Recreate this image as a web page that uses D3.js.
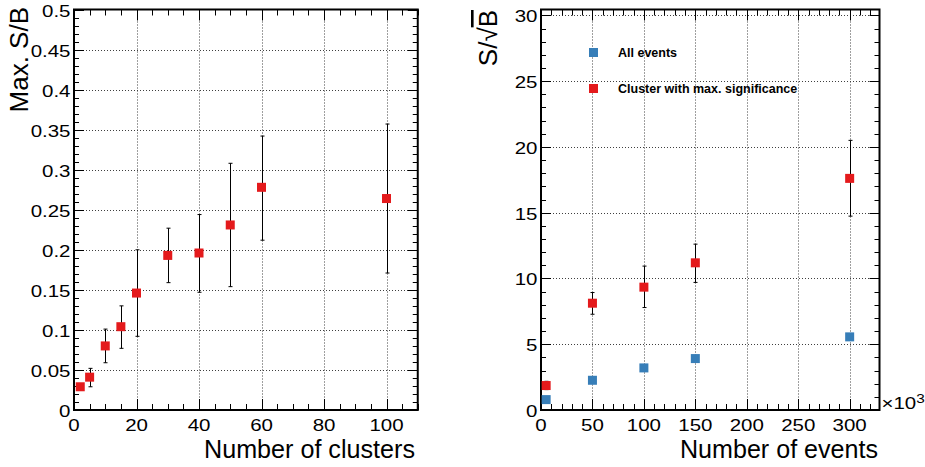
<!DOCTYPE html>
<html><head><meta charset="utf-8">
<script src="https://cdn.jsdelivr.net/npm/d3@7"></script>
<style>body{margin:0;background:#fff}svg{display:block}text{font-family:"Liberation Sans",Arial,sans-serif;fill:#000}</style>
</head><body>
<svg id="c" width="925" height="467"></svg>
<script>
// ---- Left panel data ----
const clusters      = [2, 5, 10, 15, 20, 30, 40, 50, 60, 100];
const maxSB         = [0.029, 0.041, 0.080, 0.104, 0.146, 0.193, 0.196, 0.231, 0.278, 0.264];
const maxSBLow      = [0.027, 0.029, 0.059, 0.077, 0.092, 0.159, 0.147, 0.154, 0.212, 0.171];
const maxSBHigh     = [0.031, 0.052, 0.101, 0.130, 0.200, 0.227, 0.244, 0.308, 0.342, 0.357];
const leftXTicks    = [0, 20, 40, 60, 80, 100];
const leftYTicks    = [0, 0.05, 0.1, 0.15, 0.2, 0.25, 0.3, 0.35, 0.4, 0.45, 0.5];
const leftYLabels   = ["0","0.05","0.1","0.15","0.2","0.25","0.3","0.35","0.4","0.45","0.5"];

// ---- Right panel data ----
const events        = [5, 50, 100, 150, 300];          // x10^3
const allEvents     = [0.79, 2.26, 3.20, 3.91, 5.56];
const clusterSig    = [1.86, 8.12, 9.34, 11.19, 17.61];
const clusterSigLow = [1.55, 7.28, 7.79, 9.70, 14.74];
const clusterSigHigh= [2.18, 8.93, 10.94, 12.61, 20.50];
const rightXTicks   = [0, 50, 100, 150, 200, 250, 300];
const rightYTicks   = [0, 5, 10, 15, 20, 25, 30];
const legendLabels  = ["All events", "Cluster with max. significance"];

const RED = "#e41a1c", BLUE = "#377eb8";
const svg = d3.select("#c");

function tickText(g, x, y, str, anchor, sx){
  g.append("text").attr("transform", `translate(${x},${y}) scale(${sx},1)`)
   .attr("text-anchor", anchor).attr("font-size", 16).text(str);
}

function panel(opt){
  const g = svg.append("g");
  const x = d3.scaleLinear().domain(opt.xd).range([opt.x0, opt.x1]);
  const y = d3.scaleLinear().domain(opt.yd).range([opt.y1, opt.y0]);
  // grid
  const grid = g.append("g").attr("stroke", "#000").attr("stroke-width", 1)
     .attr("stroke-dasharray", "1,2").attr("opacity", 0.75);
  opt.xMajor.filter(v => x(v) > opt.x0 + 2 && x(v) < opt.x1 - 2).forEach(v => {
    grid.append("line").attr("x1", Math.round(x(v))+0.5).attr("x2", Math.round(x(v))+0.5)
      .attr("y1", opt.y0).attr("y2", opt.y1);
  });
  opt.yMajor.filter(v => y(v) > opt.y0 + 2 && y(v) < opt.y1 - 2).forEach(v => {
    grid.append("line").attr("y1", Math.round(y(v))+0.5).attr("y2", Math.round(y(v))+0.5)
      .attr("x1", opt.x0).attr("x2", opt.x1);
  });
  // ticks
  const tk = g.append("g").attr("stroke", "#000").attr("stroke-width", 1);
  const xMinor = d3.range(opt.xd[0], opt.xd[1] + 1e-9, opt.xMinorStep);
  xMinor.forEach(v => {
    const major = opt.xMajor.some(m => Math.abs(m - v) < 1e-9);
    const L = major ? 11 : 6, px = Math.round(x(v)) + 0.5;
    tk.append("line").attr("x1", px).attr("x2", px).attr("y1", opt.y1).attr("y2", opt.y1 - L);
    tk.append("line").attr("x1", px).attr("x2", px).attr("y1", opt.y0).attr("y2", opt.y0 + L);
  });
  const yMinor = d3.range(opt.yd[0], opt.yd[1] + 1e-9, opt.yMinorStep);
  yMinor.forEach(v => {
    const major = opt.yMajor.some(m => Math.abs(m - v) < 1e-9);
    const L = major ? 10 : 5, py = Math.round(y(v)) + 0.5;
    tk.append("line").attr("y1", py).attr("y2", py).attr("x1", opt.x0).attr("x2", opt.x0 + L);
    tk.append("line").attr("y1", py).attr("y2", py).attr("x1", opt.x1).attr("x2", opt.x1 - L);
  });
  // frame
  g.append("rect").attr("x", opt.x0).attr("y", opt.y0).attr("width", opt.x1 - opt.x0)
   .attr("height", opt.y1 - opt.y0).attr("fill", "none").attr("stroke", "#000").attr("stroke-width", 2);
  // labels
  opt.xMajor.forEach(v => tickText(g, x(v), 430.5, String(v), "middle", 1.28));
  opt.yMajor.forEach((v, i) => tickText(g, opt.x0 - 3.5, y(v) + 7, opt.yLabels[i], "end", 1.28));
  return {g, x, y};
}

// ---------- Left ----------
const L = panel({x0: 74, x1: 417.75, y0: 9.5, y1: 410, xd: [0, 110], yd: [0, 0.5],
  xMajor: leftXTicks, xMinorStep: 5, yMajor: leftYTicks, yMinorStep: 0.01, yLabels: leftYLabels});
const le = L.g.append("g").attr("stroke", "#000").attr("stroke-width", 1);
clusters.forEach((c, i) => {
  const px = Math.round(L.x(c)) + 0.5;
  le.append("line").attr("x1", px).attr("x2", px).attr("y1", L.y(maxSBLow[i])).attr("y2", L.y(maxSBHigh[i]));
  [maxSBLow[i], maxSBHigh[i]].forEach(v => le.append("line").attr("x1", px - 2).attr("x2", px + 2)
     .attr("y1", L.y(v)).attr("y2", L.y(v)));
});
L.g.selectAll("rect.m").data(clusters).join("rect").attr("class", "m")
  .attr("x", (d) => L.x(d) - 4.5).attr("y", (d, i) => L.y(maxSB[i]) - 4.5)
  .attr("width", 9).attr("height", 9).attr("fill", RED);
L.g.append("text").attr("transform", "translate(204,457.5)").attr("font-size", 25.5)
  .attr("textLength", 211).attr("lengthAdjust", "spacingAndGlyphs").text("Number of clusters");
L.g.append("text").attr("transform", "translate(28,7) rotate(-90)").attr("text-anchor", "end")
  .attr("font-size", 26).text("Max. S/B");

// ---------- Right ----------
const R = panel({x0: 541, x1: 879.5, y0: 9.5, y1: 410, xd: [0, 329], yd: [0, 30.45],
  xMajor: rightXTicks, xMinorStep: 10, yMajor: rightYTicks, yMinorStep: 1, yLabels: rightYTicks.map(String)});
const re = R.g.append("g").attr("stroke", "#000").attr("stroke-width", 1);
events.forEach((e, i) => {
  const px = Math.round(R.x(e)) + 0.5;
  re.append("line").attr("x1", px).attr("x2", px).attr("y1", R.y(clusterSigLow[i])).attr("y2", R.y(clusterSigHigh[i]));
  [clusterSigLow[i], clusterSigHigh[i]].forEach(v => re.append("line").attr("x1", px - 2).attr("x2", px + 2)
     .attr("y1", R.y(v)).attr("y2", R.y(v)));
});
R.g.selectAll("rect.b").data(events).join("rect").attr("class", "b")
  .attr("x", d => R.x(d) - 4.5).attr("y", (d, i) => R.y(allEvents[i]) - 4.5)
  .attr("width", 9).attr("height", 9).attr("fill", BLUE);
R.g.selectAll("rect.r").data(events).join("rect").attr("class", "r")
  .attr("x", d => R.x(d) - 4.5).attr("y", (d, i) => R.y(clusterSig[i]) - 4.5)
  .attr("width", 9).attr("height", 9).attr("fill", RED);
// legend
[[BLUE, 52.5], [RED, 88.5]].forEach(([col, ly], i) => {
  R.g.append("rect").attr("x", 589).attr("y", ly - 4.5).attr("width", 9).attr("height", 9).attr("fill", col);
  R.g.append("text").attr("x", 618).attr("y", ly + 4.5).attr("font-size", 12.5)
    .attr("font-weight", "bold").text(legendLabels[i]);
});
R.g.append("text").attr("transform", "translate(680,457.5)").attr("font-size", 25.5)
  .attr("textLength", 198).attr("lengthAdjust", "spacingAndGlyphs").text("Number of events");
const ex = R.g.append("text").attr("transform", "translate(881.5,409) scale(1.28,1)").attr("font-size", 16);
ex.append("tspan").text("\u00d710");
ex.append("tspan").attr("font-size", 12).attr("dy", -6).text("3");
const yt = R.g.append("text").attr("transform", "translate(497,10) rotate(-90)").attr("text-anchor", "end")
  .attr("font-size", 26);
yt.append("tspan").text("S/\u221A");
yt.append("tspan").attr("text-decoration", "overline").text("B");
</script>
</body></html>
